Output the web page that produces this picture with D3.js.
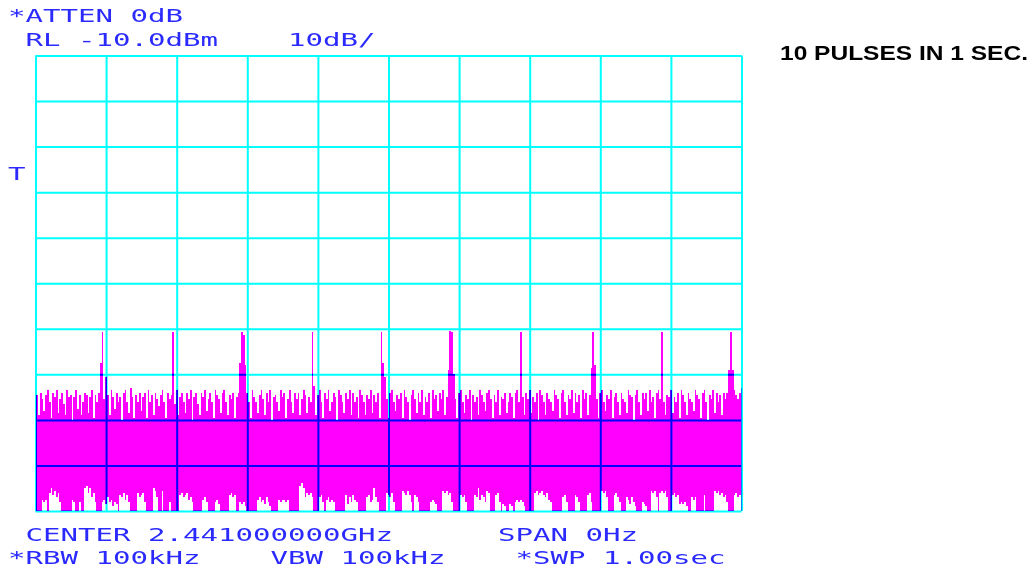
<!DOCTYPE html>
<html>
<head>
<meta charset="utf-8">
<script src="https://cdn.jsdelivr.net/npm/d3@7"></script>
<style>
  html, body { margin: 0; padding: 0; background: #fff; }
  svg { display: block; }
  .hp { font-family: "DejaVu Sans Mono", "Liberation Mono", monospace; fill: #2a2aff; white-space: pre; }
  .grid line { stroke: #00ffff; stroke-width: 2; mix-blend-mode: multiply; }
  .grid path { display: none; }
</style>
</head>
<body>
<script>
// Zero-span sweep: 401 trace points over a 1.00 s sweep.
const sweepSeconds = 1.0;

// Peak (max-hold) envelope of the trace, dBm.
const traceMax = [
  -83.5, -84.5, -89, -84, -85.5, -88, -84.5, -83.5, -86, -89.5,
  -84, -85, -83.5, -88.5, -85.5, -84, -86.5, -89, -83.5, -85,
  -84.5, -90, -85, -83.5, -87.5, -84.5, -89, -86, -84, -84.5,
  -88.5, -85, -83.5, -89.5, -84.5, -86, -84, -77.5, -70.8, -85.5,
  -80.5, -84.5, -89, -83.5, -85, -87.5, -84, -86, -85, -90,
  -84, -83.5, -86, -88.5, -83, -85, -89.5, -84.5, -86, -84,
  -88, -85, -84, -89.5, -83.5, -86, -84.5, -89, -84, -85.5,
  -87, -84.5, -83.5, -86, -89.5, -84, -85.5, -84.5, -70.8, -86.5,
  -83.5, -89, -85, -84, -86, -88.5, -84, -85.5, -83.5, -90,
  -85, -84, -86.5, -89, -84, -85, -83.5, -88, -85.5, -84,
  -86, -89.5, -83.5, -84.5, -85.5, -88.5, -84, -83.5, -86, -89,
  -84.5, -85.5, -84, -89.5, -85, -84, -77.5, -70.8, -71.3, -78,
  -84, -86, -89.5, -83.5, -85, -86, -88.5, -84.5, -83.5, -85.5,
  -89, -84, -86, -83.5, -90, -85, -84.5, -86, -88, -83.5,
  -85, -84, -89.5, -85.5, -83.5, -86, -88.5, -84, -85.5, -84,
  -89, -85.5, -83.5, -84.5, -88.5, -85, -86, -70.8, -82.5, -89,
  -84.5, -83.5, -86, -89.5, -84, -85.5, -83.5, -88, -86, -84,
  -85, -90, -83.5, -84.5, -86, -88.5, -84, -85.5, -83.5, -89,
  -84, -86, -85, -89.5, -83.5, -84.5, -86, -89, -84.5, -85.5,
  -83.5, -88.5, -84.5, -86, -84, -89.5, -70.8, -77.5, -80.5, -85.5,
  -89.5, -84, -83.5, -86, -88, -84.5, -85.5, -84, -89.5, -83.5,
  -85, -86, -90, -84.5, -83.5, -85.5, -88.5, -84, -86, -83.5,
  -89, -85, -86, -84, -89.5, -83.5, -85.5, -84.5, -88, -84,
  -85.5, -83.5, -89, -85, -79, -70.5, -70.8, -80, -85.5, -89.5,
  -84, -83.5, -86, -88.5, -84.5, -85.5, -83.5, -90, -84.5, -86,
  -85, -89, -83.5, -84.5, -86, -88, -84, -83.5, -85.5, -89.5,
  -84.5, -86, -83.5, -89, -85, -85.5, -84, -88.5, -86, -84,
  -85, -89.5, -84, -83.5, -86, -70.8, -85, -89, -84, -85.5,
  -83.5, -88.5, -85, -86, -84, -90, -83.5, -84.5, -86, -89,
  -84, -85.5, -86, -88, -83.5, -84.5, -85.5, -89.5, -84, -83.5,
  -86, -89, -84.5, -85.5, -83.5, -88.5, -84, -86, -84.5, -89.5,
  -83.5, -85.5, -84, -89, -84.5, -78.5, -70.8, -78, -85.5, -89.5,
  -84, -83.5, -86, -88, -84.5, -85.5, -83.5, -89.5, -85, -84,
  -86, -89, -84, -85.5, -86, -88.5, -83.5, -84.5, -85, -90,
  -84.5, -83.5, -86, -89, -84, -85.5, -84, -88, -83.5, -86,
  -85, -89.5, -84, -83.5, -85.5, -70.8, -86, -89, -84.5, -85,
  -83.5, -88.5, -85, -86, -84, -89.5, -83.5, -84.5, -86, -89,
  -84, -85.5, -86, -88, -83.5, -84.5, -85.5, -89.5, -84, -83.5,
  -86, -90, -84.5, -85.5, -83.5, -88.5, -84, -86, -84.5, -89,
  -84, -85.5, -84, -79, -70.8, -79, -83.5, -84.5, -85.5, -84,
  -83
];

// Minimum envelope of the trace, dBm (-110 is the bottom graticule line).
const traceMin = [
  -110, -110, -110, -110, -107.5, -108, -107.5, -110, -106, -105,
  -106.5, -105.5, -107, -106, -108, -110, -110, -110, -110, -110,
  -110, -107.5, -108, -110, -110, -108, -110, -110, -105, -104.5,
  -106, -105, -107, -106, -108, -110, -110, -110, -108, -107.5,
  -108.5, -107, -108, -107.5, -109, -108, -108.5, -110, -106.5, -107,
  -106, -107.5, -106.5, -108, -110, -110, -110, -110, -106, -107,
  -106.5, -106, -108, -110, -110, -110, -110, -105, -105.5, -107,
  -110, -110, -105.5, -110, -110, -110, -108, -110, -110, -110,
  -110, -110, -106.5, -106, -107, -106.5, -106, -107.5, -107, -108,
  -110, -110, -110, -110, -110, -107.5, -107, -108, -110, -110,
  -110, -110, -108, -107.5, -108.5, -110, -110, -110, -110, -110,
  -106.5, -106, -107, -106.5, -110, -110, -108, -108.5, -108, -109,
  -110, -110, -110, -110, -110, -110, -107.5, -107, -108, -107.5,
  -108.5, -107, -108, -109, -110, -110, -110, -110, -107.5, -108,
  -107.5, -107.5, -108, -107.5, -110, -110, -110, -110, -110, -110,
  -104.5, -103.8, -105, -107, -106, -106.5, -106, -107, -110, -110,
  -110, -107, -106.5, -108, -110, -107.5, -107, -108, -107.5, -108,
  -110, -110, -110, -110, -110, -110, -106.5, -108.5, -107, -108,
  -106.5, -107.5, -108, -110, -110, -110, -110, -110, -107, -106.5,
  -108, -107.5, -105, -107, -108, -110, -110, -110, -110, -106,
  -106.5, -107, -106, -108, -110, -110, -110, -110, -105.5, -106,
  -106.5, -105.5, -106.5, -108, -110, -106.5, -107, -108, -110, -110,
  -110, -110, -110, -110, -108, -107.5, -108, -108.5, -110, -110,
  -110, -105.5, -106, -105.5, -106.5, -106, -108, -110, -110, -110,
  -110, -106.5, -107, -106.5, -108, -110, -110, -110, -110, -106.5,
  -107, -105, -107.5, -106.5, -107, -108, -105.5, -106, -110, -110,
  -110, -106.5, -106, -108, -110, -108.5, -109, -110, -110, -108.5,
  -109, -110, -108, -107.5, -108, -107.5, -108, -109, -110, -110,
  -110, -110, -110, -106, -105.5, -106.5, -106, -105.5, -106.5, -107,
  -106, -107.5, -108, -110, -110, -110, -110, -110, -110, -107,
  -106.5, -108, -110, -110, -110, -110, -106.5, -107, -108, -110,
  -110, -110, -110, -106.5, -106, -108, -110, -110, -110, -110,
  -110, -105.5, -106, -105.5, -107, -110, -110, -110, -106.5, -106,
  -107, -108, -110, -110, -110, -107, -107.5, -108.5, -107, -108,
  -109, -110, -110, -110, -108, -108.5, -109, -110, -110, -105.5,
  -106, -105.5, -107, -110, -106, -105.5, -106, -105.5, -107, -110,
  -110, -106.5, -106, -107, -106.5, -108.5, -108, -108.5, -108, -109,
  -110, -110, -107, -107.5, -107, -110, -110, -110, -110, -106.5,
  -110, -110, -110, -110, -110, -105.5, -106, -105.5, -106.5, -106,
  -107, -106.5, -108, -110, -110, -110, -106.5, -106, -107, -106.5,
  -110
];

// Graticule: 10 divisions each way.
const timeTicks = d3.range(0, 11).map(i => i / 10);        // s
const levelTicks = d3.range(0, 11).map(i => -10 - 10 * i);  // dBm

// Annotation text (instrument settings).
const headerLines = ["*ATTEN 0dB", " RL -10.0dBm    10dB/"];
const footerLines = [" CENTER 2.441000000GHz      SPAN 0Hz", "*RBW 100kHz    VBW 100kHz    *SWP 1.00sec"];
const markerLabel = "T";
const titleText = "10 PULSES IN 1 SEC.";

const W = 1035, H = 571;
const plot = { left: 35.5, right: 741.5, top: 55.5, bottom: 511 };
const charAdvance = 17.5;

const svg = d3.select("body").append("svg")
  .attr("width", W).attr("height", H)
  .style("isolation", "isolate");

svg.append("rect").attr("width", W).attr("height", H).attr("fill", "#fff");

const x = d3.scaleLinear().domain([0, sweepSeconds]).range([plot.left, plot.right]);
const y = d3.scaleLinear().domain([-10, -110]).range([plot.top, plot.bottom]);

svg.append("clipPath").attr("id", "plotClip")
  .append("rect")
  .attr("x", plot.left).attr("y", plot.top)
  .attr("width", plot.right - plot.left).attr("height", plot.bottom - plot.top);

// Trace: filled band between min and max envelopes.
const n = traceMax.length;
const points = traceMax.map((v, i) => ({ t: i * sweepSeconds / (n - 1), hi: v, lo: traceMin[i] }));

const band = d3.area()
  .x(d => x(d.t))
  .y0(d => y(d.lo))
  .y1(d => y(d.hi))
  .curve(d3.curveStep);

svg.append("path")
  .datum(points)
  .attr("clip-path", "url(#plotClip)")
  .attr("d", band)
  .attr("fill", "#ff00ff")
  .attr("shape-rendering", "crispEdges");

// Graticule drawn over the trace with multiply blending (cyan over magenta reads blue).
svg.append("g")
  .attr("class", "grid")
  .attr("transform", `translate(0,${plot.bottom})`)
  .call(d3.axisBottom(x).tickValues(timeTicks).tickSize(-(plot.bottom - plot.top)).tickSizeOuter(0).tickFormat(""));

svg.append("g")
  .attr("class", "grid")
  .attr("transform", `translate(${plot.left},0)`)
  .call(d3.axisLeft(y).tickValues(levelTicks).tickSize(-(plot.right - plot.left)).tickSizeOuter(0).tickFormat(""));

// Instrument annotation in a monospaced plotter style.
function hpText(str, x0, baseline) {
  svg.append("text")
    .attr("class", "hp")
    .attr("x", x0).attr("y", baseline)
    .attr("font-size", 17.5)
    .attr("textLength", str.length * charAdvance)
    .attr("lengthAdjust", "spacingAndGlyphs")
    .text(str);
}

hpText(headerLines[0], 8, 22);
hpText(headerLines[1], 8, 46);
hpText(footerLines[0], 8, 541);
hpText(footerLines[1], 8, 564);
hpText(markerLabel, 8, 180);

svg.append("text")
  .attr("x", 780).attr("y", 60)
  .attr("font-family", "'Liberation Sans', Arial, sans-serif")
  .attr("font-weight", "bold")
  .attr("font-size", 21)
  .attr("fill", "#000")
  .attr("textLength", 248)
  .attr("lengthAdjust", "spacingAndGlyphs")
  .text(titleText);
</script>
</body>
</html>
